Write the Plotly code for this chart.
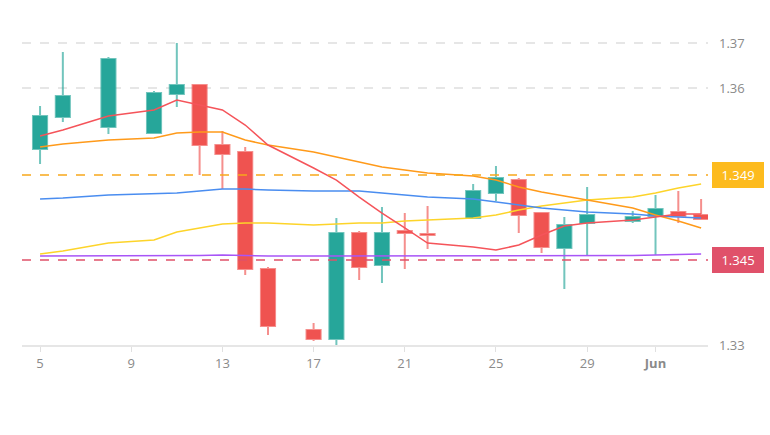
import plotly.graph_objects as go

dates = ["2024-05-05", "2024-05-06", "2024-05-08", "2024-05-10", "2024-05-11", "2024-05-12",
         "2024-05-13", "2024-05-14", "2024-05-15", "2024-05-17", "2024-05-18", "2024-05-19",
         "2024-05-20", "2024-05-21", "2024-05-22", "2024-05-24", "2024-05-25", "2024-05-26",
         "2024-05-27", "2024-05-28", "2024-05-29", "2024-05-31", "2024-06-01", "2024-06-02",
         "2024-06-03"]

open_ = [1.35596, 1.36020, 1.35887, 1.35808, 1.36325, 1.36444, 1.35649, 1.35556, 1.34007,
         1.33199, 1.33079, 1.34483, 1.34060, 1.34510, 1.34470, 1.34682, 1.35013, 1.35185,
         1.34748, 1.34285, 1.34616, 1.34642, 1.34709, 1.34762, 1.34722]
high = [1.36166, 1.36881, 1.36815, 1.36364, 1.37000, 1.36457, 1.35834, 1.35623, 1.34033,
        1.33291, 1.34682, 1.34510, 1.34828, 1.34748, 1.34841, 1.35132, 1.35371, 1.35212,
        1.34762, 1.34695, 1.35093, 1.34775, 1.34987, 1.35040, 1.34934]
low = [1.35397, 1.35954, 1.35795, 1.35795, 1.36152, 1.35252, 1.35066, 1.33927, 1.33132,
       1.33053, 1.33000, 1.33861, 1.33821, 1.34007, 1.34272, 1.34675, 1.34907, 1.34483,
       1.34219, 1.33742, 1.34192, 1.34616, 1.34192, 1.34616, 1.34656]
close = [1.36033, 1.36298, 1.36788, 1.36338, 1.36444, 1.35649, 1.35530, 1.34007, 1.33252,
         1.33079, 1.34483, 1.34033, 1.34483, 1.34483, 1.34457, 1.35040, 1.35212, 1.34722,
         1.34298, 1.34589, 1.34722, 1.34695, 1.34801, 1.34709, 1.34669]

ma_red = [1.35768, 1.35848, 1.36033, 1.36113, 1.36245, 1.36179, 1.36113, 1.35914, 1.35649,
          1.35344, 1.35185, 1.34960, 1.34748, 1.34550, 1.34351, 1.34298, 1.34258, 1.34325,
          1.34457, 1.34576, 1.34616, 1.34656, 1.34695, 1.34735, 1.34735]
ma_orange = [1.35623, 1.35662, 1.35715, 1.35742, 1.35808, 1.35821, 1.35821, 1.35715, 1.35649,
             1.35556, 1.35490, 1.35424, 1.35358, 1.35318, 1.35278, 1.35238, 1.35185, 1.35093,
             1.35027, 1.34974, 1.34921, 1.34815, 1.34722, 1.34642, 1.34550]
ma_blue = [1.34934, 1.34947, 1.34987, 1.35000, 1.35013, 1.35040, 1.35066, 1.35066, 1.35053,
           1.35040, 1.35040, 1.35040, 1.35013, 1.34987, 1.34960, 1.34934, 1.34894, 1.34854,
           1.34815, 1.34788, 1.34762, 1.34735, 1.34709, 1.34695, 1.34682]
ma_yellow = [1.34205, 1.34245, 1.34351, 1.34391, 1.34497, 1.34550, 1.34603, 1.34616, 1.34616,
             1.34589, 1.34603, 1.34616, 1.34616, 1.34642, 1.34656, 1.34682, 1.34722, 1.34788,
             1.34841, 1.34881, 1.34921, 1.34960, 1.35013, 1.35080, 1.35132]
ma_purple = [1.34179, 1.34179, 1.34179, 1.34179, 1.34179, 1.34185, 1.34192, 1.34185, 1.34179,
             1.34179, 1.34179, 1.34179, 1.34179, 1.34179, 1.34179, 1.34179, 1.34179, 1.34179,
             1.34179, 1.34179, 1.34179, 1.34185, 1.34192, 1.34199, 1.34205]

price_lines = [1.35252, 1.34126]
price_labels = ["1.349", "1.345"]
price_colors = ["#f7a81b", "#e0516a"]
label_bg = ["#fdbb1e", "#e0516a"]

y_tickvals = [1.37, 1.36404, 1.33]
y_ticktext = ["1.37", "1.36", "1.33"]
x_tickvals = ["2024-05-05", "2024-05-09", "2024-05-13", "2024-05-17", "2024-05-21",
              "2024-05-25", "2024-05-29", "2024-06-01"]
x_ticktext = ["5", "9", "13", "17", "21", "25", "29", "<b>Jun</b>"]

fig = go.Figure()

ma_specs = [(ma_yellow, "#fdd42a"), (ma_purple, "#a855f7"), (ma_blue, "#4a8df0"),
            (ma_orange, "#ff9a1a"), (ma_red, "#f5545a")]
for vals, col in ma_specs:
    fig.add_trace(go.Scatter(x=dates, y=vals, mode="lines",
                             line=dict(color=col, width=1.5), hoverinfo="skip"))

fig.add_trace(go.Candlestick(
    x=dates, open=open_, high=high, low=low, close=close,
    increasing=dict(line=dict(color="rgba(38,166,154,0.65)", width=2), fillcolor="#26a69a"),
    decreasing=dict(line=dict(color="rgba(239,83,80,0.65)", width=2), fillcolor="#ef5350"),
    whiskerwidth=0,
))

for v, lab, col, bg in zip(price_lines, price_labels, price_colors, label_bg):
    fig.add_shape(type="line", xref="paper", x0=0, x1=1, yref="y", y0=v, y1=v,
                  line=dict(color=col, width=1.5, dash="dash"))
    fig.add_annotation(xref="paper", x=1, xanchor="left", xshift=4, yref="y", y=v,
                       text=lab, showarrow=False, bgcolor=bg, bordercolor=bg,
                       borderpad=3, width=44,
                       font=dict(color="white", size=13, family="Open Sans"))

fig.update_layout(
    width=770, height=435,
    margin=dict(l=22, r=62, t=20, b=90),
    paper_bgcolor="white", plot_bgcolor="white",
    showlegend=False,
    boxgap=0.38, boxgroupgap=0,
    font=dict(family="Open Sans", color="#8a8a8a", size=13),
    xaxis=dict(
        type="date",
        range=["2024-05-04 05:00", "2024-06-03 07:15"],
        rangeslider=dict(visible=False),
        tickvals=x_tickvals, ticktext=x_ticktext,
        showgrid=False, zeroline=False,
        showline=True, linecolor="#e6e6e6", linewidth=2,
        ticks="outside", ticklen=5, tickcolor="#e0e0e0", tickwidth=1,
        tickfont=dict(size=13, color="#8a8a8a"),
    ),
    yaxis=dict(
        side="right",
        range=[1.33, 1.37305],
        tickvals=y_tickvals, ticktext=y_ticktext,
        showgrid=True, gridcolor="#e6e6e6", gridwidth=1.5, griddash="dash",
        zeroline=False, showline=False, ticks="",
        ticklabelstandoff=10,
        tickfont=dict(size=13, color="#8a8a8a"),
    ),
)

fig.write_html("out.html")
